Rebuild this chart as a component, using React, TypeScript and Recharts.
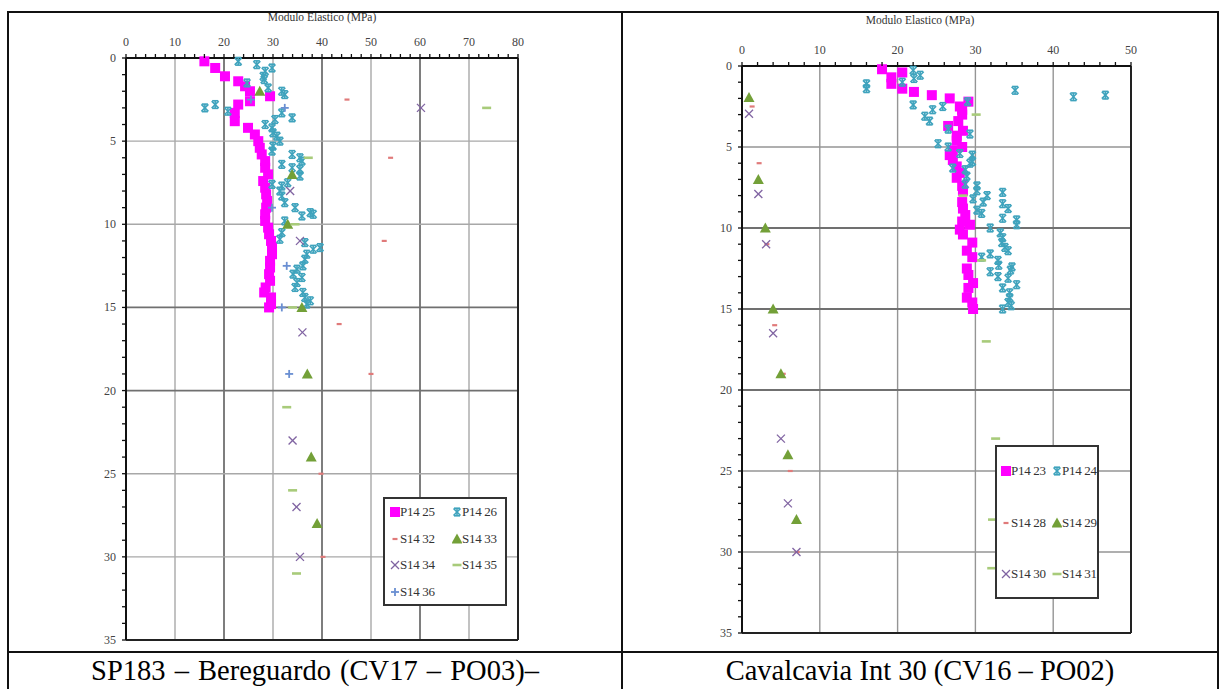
import React from "react";
import { ScatterChart, Scatter, XAxis, YAxis, ReferenceLine } from "recharts";

// each point: [elastic modulus (MPa), depth (m)]
type Pt = [number, number];

// ---- SP183 Bereguardo ----
const p1425: Pt[] = [
  [16, 0.2], [18.2, 0.6], [20.2, 1.1], [22.9, 1.4], [24.3, 1.7], [25.3, 2.0], [29.4, 2.3], [25.3, 2.6],
  [22.9, 2.8], [22.2, 3.3], [22.2, 3.8], [24.9, 4.2], [26.3, 4.6], [27, 5.0], [27.3, 5.4], [27.7, 5.8],
  [28.4, 6.2], [28.4, 6.6], [29, 7.0], [28, 7.4], [28.4, 7.8], [28.6, 8.2], [28.8, 8.6], [28.6, 9.0],
  [28.4, 9.4], [28.4, 9.8], [29, 10.2], [29.2, 10.6], [29.6, 11.0], [29.8, 11.4], [29.8, 11.8], [29.4, 12.2],
  [29.4, 12.6], [29.2, 13.0], [29.4, 13.4], [28.5, 13.8], [28.2, 14.1], [29.6, 14.4], [29.6, 14.8], [29.2, 15.0],
];
const p1426: Pt[] = [
  [22.9, 0.2], [26.7, 0.4], [29.8, 0.6], [28.4, 0.8], [28, 1.1], [28.2, 1.3], [24.7, 1.5], [29, 1.8],
  [31.8, 2.0], [32.4, 2.2], [18.2, 2.8], [16.1, 3.0], [20.8, 3.2], [31.8, 3.3], [33.9, 3.6], [30.4, 3.7],
  [28.4, 4.0], [29.8, 4.2], [30, 4.5], [30.8, 4.7], [31.4, 5.0], [30, 5.3], [29.8, 5.6], [33.9, 5.8],
  [35.5, 6.0], [35.9, 6.2], [31.8, 6.4], [33.9, 6.6], [35.5, 6.7], [35.5, 7.1], [33, 7.5], [29.8, 7.6],
  [31.8, 7.7], [31.4, 8.0], [31.8, 8.3], [32.4, 8.7], [34.5, 9.0], [37.6, 9.3], [38.2, 9.4], [35.9, 9.5],
  [32.4, 9.8], [31.8, 10.5], [31.4, 10.9], [36.5, 11.1], [39.6, 11.4], [38.2, 11.5], [36.9, 11.8], [36.5, 12.1],
  [36.1, 12.5], [34.9, 12.7], [34.1, 13.0], [35.9, 13.2], [34.9, 13.5], [34.5, 13.8], [36.1, 14.1], [36.5, 14.4],
  [37.6, 14.6], [36.9, 14.8],
];
const s1432: Pt[] = [[45.1, 2.5], [54, 6.0], [52.7, 11.0], [43.5, 16.0], [50, 19.0], [39.8, 25.0], [40.2, 30.0]];
const s1433: Pt[] = [[27.3, 2.0], [33.9, 7.0], [33, 10.0], [35.9, 15.0], [37, 19.0], [37.8, 24.0], [39, 28.0]];
const s1434: Pt[] = [[60.2, 3.0], [33.5, 8.0], [35.5, 11.0], [36, 16.5], [34, 23.0], [34.8, 27.0], [35.5, 30.0]];
const s1435: Pt[] = [[73.6, 3.0], [37.2, 6.0], [34.5, 10.0], [34, 15.0], [32.8, 21.0], [34, 26.0], [34.8, 31.0]];
const s1436: Pt[] = [[25.5, 2.5], [32.4, 3.0], [29.8, 9.0], [32.8, 12.5], [31.8, 15.0], [33.3, 19.0]];

// ---- Cavalcavia Int 30 ----
const p1423: Pt[] = [
  [18, 0.2], [20.6, 0.4], [19.2, 0.7], [19.2, 1.1], [20.6, 1.4], [22.1, 1.6], [24.4, 1.8], [26.7, 2.0],
  [29.1, 2.2], [28, 2.5], [28.3, 2.7], [28.3, 3.0], [27.8, 3.4], [26.5, 3.7], [28.4, 4.0], [27.6, 4.3],
  [27.6, 4.6], [28.3, 5.0], [27.1, 5.2], [26.7, 5.5], [27.1, 5.8], [27.6, 6.2], [28, 6.6], [27.6, 6.9],
  [28.3, 7.4], [28.4, 7.7], [28.3, 8.4], [28.4, 8.8], [28.7, 9.2], [28.3, 9.6], [29.3, 9.8], [28, 10.1],
  [28.4, 10.4], [29.6, 10.9], [28.9, 11.4], [29.6, 11.8], [28.9, 12.5], [29.1, 12.9], [29.7, 13.4], [29.1, 13.7],
  [28.9, 14.3], [29.6, 14.6], [29.7, 15.0],
];
const p1424: Pt[] = [
  [22, 0.26], [22.9, 0.57], [22.1, 0.77], [20.6, 1.0], [16, 1.1], [16, 1.4], [35.1, 1.5], [46.7, 1.8],
  [42.6, 1.9], [29, 2.2], [22, 2.4], [25.8, 2.5], [24.5, 2.7], [23.5, 3.1], [24.1, 3.4], [26.5, 3.9],
  [29.3, 4.2], [25.2, 4.8], [26.5, 5.0], [28, 5.4], [29.6, 5.5], [29.6, 5.9], [29.3, 6.0], [27.1, 6.3],
  [28.7, 6.4], [28.9, 6.8], [28.7, 7.3], [30.2, 7.4], [30.2, 7.7], [33.5, 7.8], [31.5, 8.0], [29.7, 8.2],
  [31, 8.4], [33.5, 8.5], [34.2, 8.8], [30.2, 8.9], [30.8, 9.1], [33.5, 9.4], [35.3, 9.5], [35.3, 9.8],
  [31.9, 10.0], [33.2, 10.3], [33.5, 10.6], [33.4, 10.9], [33.8, 11.2], [34.2, 11.4], [31.9, 11.6], [30.8, 11.8],
  [32.9, 12.0], [33, 12.3], [34.7, 12.4], [34.5, 12.6], [31.9, 12.7], [32.9, 13.0], [34.2, 13.1], [35.3, 13.5],
  [33.5, 13.7], [34.4, 14.0], [34.4, 14.3], [34.2, 14.6], [34.6, 14.8], [33.5, 15.0],
];
const s1428: Pt[] = [[1.3, 2.5], [2.2, 6.0], [3.2, 11.0], [4.2, 16.0], [5.3, 19.0], [6.2, 25.0], [7.1, 30.0]];
const s1429: Pt[] = [[0.9, 1.95], [2.1, 7.0], [3, 10.0], [4, 15.0], [5, 19.0], [5.9, 24.0], [7, 28.0]];
const s1430: Pt[] = [[0.9, 2.95], [2.1, 7.9], [3.1, 11.0], [4, 16.5], [5, 23.0], [5.9, 27.0], [7, 30.0]];
const s1431: Pt[] = [[30.1, 3.0], [28.4, 8.0], [30.8, 12.0], [31.4, 17.0], [32.6, 23.0], [32.2, 28.0], [32.1, 31.0]];

const depthTicks = [0, 5, 10, 15, 20, 25, 30, 35];
const leftModTicks = [0, 10, 20, 30, 40, 50, 60, 70, 80];
const rightModTicks = [0, 10, 20, 30, 40, 50];

const FONT = "'Liberation Serif', 'Times New Roman', serif";

type Kind = "square" | "star" | "dash" | "triangle" | "x" | "bar" | "plus";

const C = {
  magenta: "#ff00ff",
  teal: "#3fa3bd",
  red: "#e07a7a",
  green: "#73a038",
  purple: "#8064a2",
  lime: "#a8cb7a",
  blue: "#6a8fd2",
};

function Marker({ kind, color, cx, cy }: { kind: Kind; color: string; cx: number; cy: number }) {
  switch (kind) {
    case "square":
      return <rect x={cx - 5} y={cy - 5} width={10} height={10} fill={color} />;
    case "star":
      return (
        <g stroke={color} strokeWidth={1.6}>
          <line x1={cx - 3.5} y1={cy - 3.5} x2={cx + 3.5} y2={cy + 3.5} />
          <line x1={cx - 3.5} y1={cy + 3.5} x2={cx + 3.5} y2={cy - 3.5} />
          <line x1={cx} y1={cy - 4} x2={cx} y2={cy + 4} />
          <line x1={cx - 3} y1={cy - 3.8} x2={cx + 3} y2={cy - 3.8} />
          <line x1={cx - 3} y1={cy + 3.8} x2={cx + 3} y2={cy + 3.8} />
        </g>
      );
    case "dash":
      return <line x1={cx - 2.5} y1={cy} x2={cx + 2.5} y2={cy} stroke={color} strokeWidth={2.2} />;
    case "triangle":
      return <path d={`M${cx},${cy - 5.5} L${cx + 5.5},${cy + 4.5} L${cx - 5.5},${cy + 4.5} Z`} fill={color} />;
    case "x":
      return (
        <g stroke={color} strokeWidth={1.3}>
          <line x1={cx - 4} y1={cy - 4} x2={cx + 4} y2={cy + 4} />
          <line x1={cx - 4} y1={cy + 4} x2={cx + 4} y2={cy - 4} />
        </g>
      );
    case "bar":
      return <line x1={cx - 4.5} y1={cy} x2={cx + 4.5} y2={cy} stroke={color} strokeWidth={2.6} />;
    case "plus":
      return (
        <g stroke={color} strokeWidth={1.8}>
          <line x1={cx - 4} y1={cy} x2={cx + 4} y2={cy} />
          <line x1={cx} y1={cy - 4} x2={cx} y2={cy + 4} />
        </g>
      );
  }
  return null;
}

type Series = { name: string; data: Pt[]; kind: Kind; color: string };

const leftSeries: Series[] = [
  { name: "P14 25", data: p1425, kind: "square", color: C.magenta },
  { name: "P14 26", data: p1426, kind: "star", color: C.teal },
  { name: "S14 32", data: s1432, kind: "dash", color: C.red },
  { name: "S14 33", data: s1433, kind: "triangle", color: C.green },
  { name: "S14 34", data: s1434, kind: "x", color: C.purple },
  { name: "S14 35", data: s1435, kind: "bar", color: C.lime },
  { name: "S14 36", data: s1436, kind: "plus", color: C.blue },
];

const rightSeries: Series[] = [
  { name: "P14 23", data: p1423, kind: "square", color: C.magenta },
  { name: "P14 24", data: p1424, kind: "star", color: C.teal },
  { name: "S14 28", data: s1428, kind: "dash", color: C.red },
  { name: "S14 29", data: s1429, kind: "triangle", color: C.green },
  { name: "S14 30", data: s1430, kind: "x", color: C.purple },
  { name: "S14 31", data: s1431, kind: "bar", color: C.lime },
];

type LegendBox = { left: number; top: number; width: number; height: number; padX: number; padY: number; colW: number; rowH: number };

// two-column boxed legend, drawn over the plot area
function SeriesLegend({ series, box }: { series: Series[]; box: LegendBox }) {
  return (
    <div
      style={{
        position: "absolute",
        left: box.left,
        top: box.top,
        width: box.width,
        height: box.height,
        border: "2px solid #333",
        background: "#fff",
        boxSizing: "border-box",
        fontFamily: FONT,
        fontSize: 13,
        color: "#333",
      }}
    >
      {series.map((s, i) => {
        const col = i % 2;
        const row = Math.floor(i / 2);
        return (
          <div
            key={s.name}
            style={{
              position: "absolute",
              left: box.padX + col * box.colW - 8,
              top: box.padY + row * box.rowH - 10,
              display: "flex",
              alignItems: "center",
              whiteSpace: "nowrap",
              letterSpacing: -0.3,
            }}
          >
            <svg width={10} height={16}>
              <Marker kind={s.kind} color={s.color} cx={5} cy={8} />
            </svg>
            <span>{s.name}</span>
          </div>
        );
      })}
    </div>
  );
}

type ChartProps = {
  left: number;
  width: number;
  height: number;
  margin: { top: number; right: number; bottom: number; left: number };
  xMax: number;
  xTicks: number[];
  series: Series[];
  darkX: number[];
  darkY: number[];
  gridColor: string;
  title: { x: number; y: number };
  legend: LegendBox;
};

function DepthChart(props: ChartProps) {
  const { xMax, xTicks, series, margin } = props;
  const minorX: number[] = [];
  for (let v = 0; v <= xMax; v += 2) minorX.push(v);
  const minorY: number[] = [];
  for (let v = 0; v <= 35; v += 1) minorY.push(v);

  const renderXTick = (p: any) => {
    const v = p.payload.value;
    const major = v % 10 === 0;
    return (
      <g>
        <line x1={p.x} y1={p.y} x2={p.x} y2={p.y - 4} stroke="#111" strokeWidth={1.3} />
        {major && (
          <text x={p.x} y={p.y - 12} textAnchor="middle" fontSize={12} fontFamily={FONT} fill="#444">
            {v}
          </text>
        )}
      </g>
    );
  };
  const renderYTick = (p: any) => {
    const v = p.payload.value;
    const major = v % 5 === 0;
    return (
      <g>
        <line x1={p.x} y1={p.y} x2={p.x - 4} y2={p.y} stroke="#111" strokeWidth={1.3} />
        {major && (
          <text x={p.x - 10} y={p.y + 4} textAnchor="end" fontSize={12} fontFamily={FONT} fill="#444">
            {v}
          </text>
        )}
      </g>
    );
  };

  return (
    <div style={{ position: "absolute", left: props.left, top: 0, width: props.width, height: props.height }}>
      <div
        style={{
          position: "absolute",
          left: props.title.x - 100,
          top: props.title.y - 8,
          width: 200,
          textAlign: "center",
          fontFamily: FONT,
          fontSize: 11.5,
          color: "#333",
          lineHeight: "16px",
        }}
      >
        Modulo Elastico (MPa)
      </div>
      <ScatterChart width={props.width} height={props.height} margin={margin}>
        <XAxis
          type="number"
          dataKey="x"
          orientation="top"
          domain={[0, xMax]}
          ticks={minorX}
          interval={0}
          height={30}
          tickSize={0}
          tickMargin={0}
          tickLine={false}
          tick={renderXTick}
          axisLine={{ stroke: "#111", strokeWidth: 2 }}
        />
        <YAxis
          type="number"
          dataKey="y"
          reversed
          domain={[0, 35]}
          ticks={minorY}
          interval={0}
          width={26}
          tickSize={0}
          tickMargin={0}
          tickLine={false}
          tick={renderYTick}
          axisLine={{ stroke: "#111", strokeWidth: 2 }}
        />
        {xTicks.slice(1, -1).map((v) => (
          <ReferenceLine
            key={`gx${v}`}
            x={v}
            stroke={props.darkX.includes(v) ? "#707070" : props.gridColor}
            strokeWidth={props.darkX.includes(v) ? 1.8 : 1.4}
          />
        ))}
        {depthTicks.slice(1, -1).map((v) => (
          <ReferenceLine
            key={`gy${v}`}
            y={v}
            stroke={props.darkY.includes(v) ? "#707070" : props.gridColor}
            strokeWidth={props.darkY.includes(v) ? 1.8 : 1.4}
          />
        ))}
        <ReferenceLine x={xMax} stroke="#222" strokeWidth={2} />
        <ReferenceLine y={35} stroke="#222" strokeWidth={2} />
        {series.map((s) => (
          <Scatter
            key={s.name}
            name={s.name}
            data={s.data.map(([x, y]) => ({ x, y }))}
            isAnimationActive={false}
            shape={(p: any) => <Marker kind={s.kind} color={s.color} cx={p.cx} cy={p.cy} />}
          />
        ))}
      </ScatterChart>
      <SeriesLegend series={series} box={props.legend} />
    </div>
  );
}

export default function App() {
  const line = "#111";
  const caption: React.CSSProperties = {
    position: "absolute",
    top: 653,
    textAlign: "center",
    fontFamily: FONT,
    fontSize: 28.5,
    lineHeight: "36px",
    color: "#000",
    whiteSpace: "nowrap",
  };
  return (
    <div style={{ position: "absolute", left: 0, top: 0, width: 1226, height: 689, background: "#fff", overflow: "hidden" }}>
      <DepthChart
        left={0}
        width={622}
        height={652}
        margin={{ top: 28, right: 104, bottom: 12, left: 100 }}
        xMax={80}
        xTicks={leftModTicks}
        series={leftSeries}
        darkX={[20, 40, 60]}
        darkY={[15, 20]}
        gridColor="#a8a8a8"
        title={{ x: 322, y: 17 }}
        legend={{ left: 383, top: 497, width: 124, height: 109, padX: 13, padY: 15, colW: 62, rowH: 26.5 }}
      />
      <DepthChart
        left={622}
        width={596}
        height={652}
        margin={{ top: 36, right: 87, bottom: 19, left: 94 }}
        xMax={50}
        xTicks={rightModTicks}
        series={rightSeries}
        darkX={[]}
        darkY={[10, 15, 20]}
        gridColor="#959595"
        title={{ x: 298, y: 20 }}
        legend={{ left: 373, top: 445, width: 104, height: 154, padX: 12, padY: 26, colW: 51, rowH: 51.5 }}
      />
      {/* table frame */}
      <div style={{ position: "absolute", left: 8, top: 11, width: 1211, height: 2, background: line }} />
      <div style={{ position: "absolute", left: 8, top: 651, width: 1211, height: 2, background: line }} />
      <div style={{ position: "absolute", left: 7, top: 11, width: 1.5, height: 678, background: line }} />
      <div style={{ position: "absolute", left: 621, top: 11, width: 1.5, height: 678, background: line }} />
      <div style={{ position: "absolute", left: 1217, top: 11, width: 1.5, height: 678, background: line }} />
      <div style={{ ...caption, left: 8, width: 614, wordSpacing: 2 }}>SP183 – Bereguardo (CV17 – PO03)–</div>
      <div style={{ ...caption, left: 622, width: 596 }}>Cavalcavia Int 30 (CV16 – PO02)</div>
    </div>
  );
}
